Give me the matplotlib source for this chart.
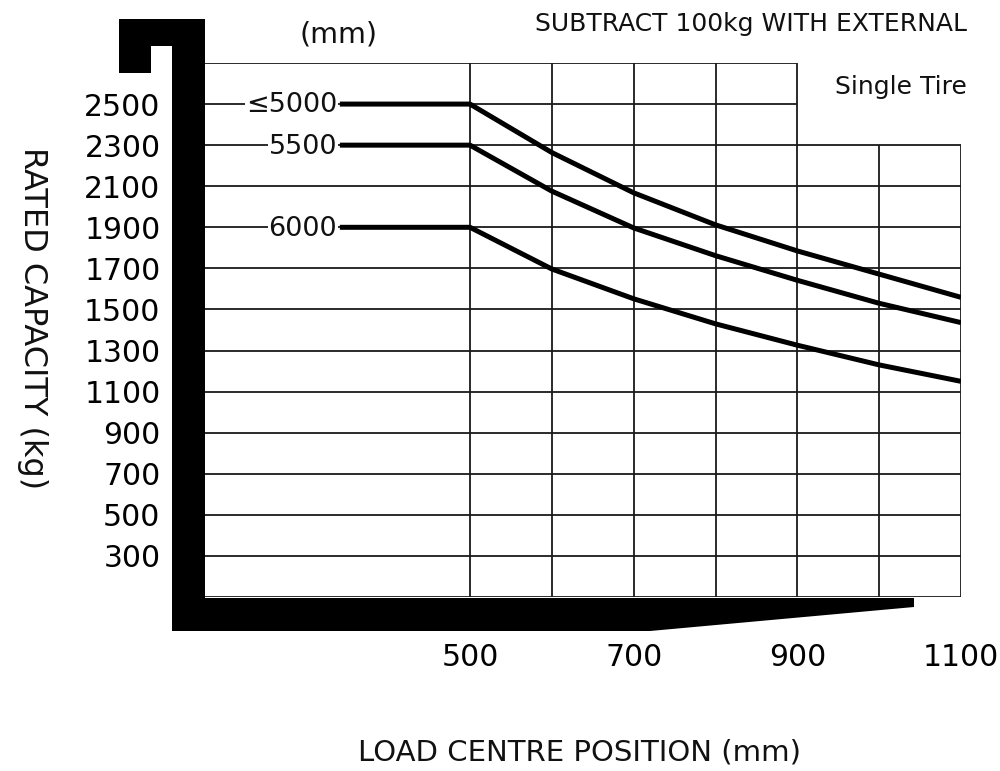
import numpy as np
import matplotlib
matplotlib.use('Agg')
from matplotlib import pyplot as plt
from matplotlib import patches

plt.rcParams['font.family'] = ['DejaVu Sans']

# load centre positions (mm) where the curves are read
load_centre = [500, 600, 700, 800, 900, 1000, 1100]

# rated capacity (kg) for each lift height
lift_heights = ['≤5000', '5500', '6000']
cap_5000 = [2500, 2264, 2068, 1912, 1785, 1672, 1559]
cap_5500 = [2300, 2076, 1897, 1762, 1642, 1530, 1436]
cap_6000 = [1900, 1697, 1552, 1430, 1326, 1230, 1150]

y_ticks = [300, 500, 700, 900, 1100, 1300, 1500, 1700, 1900, 2100, 2300, 2500]
x_ticks = [500, 700, 900, 1100]

W, H = 1000, 771
fig = plt.figure(figsize=(W / 100, H / 100), dpi=100)

def px(x, y):
    return (x / W, 1 - y / H)

ax = fig.add_axes([205 / W, 1 - 597 / H, (961 - 205) / W, (597 - 63) / H])
x_left = 500 - (470 - 205) * 600 / 491
ax.set_xlim(x_left, 1100)
ax.set_ylim(100, 2700)

# grid: long rows up to 1100, short top rows up to 900
grid_kw = dict(color='#1a1a1a', lw=1.3, zorder=1)
for yv in range(100, 2301, 200):
    ax.hlines(yv, x_left, 1100, **grid_kw)
for yv in [2500, 2700]:
    ax.hlines(yv, x_left, 900, **grid_kw)
for xv in [500, 600, 700, 800, 900]:
    ax.vlines(xv, 100, 2700, **grid_kw)
for xv in [1000, 1100]:
    ax.vlines(xv, 100, 2300, **grid_kw)

# curves with a flat part left of 500 mm
flat_start = 341
for name, caps in zip(lift_heights, [cap_5000, cap_5500, cap_6000]):
    xs = [flat_start] + load_centre
    ys = [caps[0]] + caps
    ax.plot(xs, ys, color='black', lw=3.6, solid_capstyle='butt',
            solid_joinstyle='round', zorder=3)
    ax.annotate(name, xy=(flat_start, caps[0]), xytext=(-2, -1),
                textcoords='offset points', ha='right', va='center',
                fontsize=19.5, color='#111',
                bbox=dict(facecolor='white', edgecolor='none', pad=0.5), zorder=4)

for s in ax.spines.values():
    s.set_visible(False)
ax.set_yticks(y_ticks)
ax.set_yticklabels([str(v) for v in y_ticks], fontsize=21.5)
ax.set_xticks(x_ticks)
ax.set_xticklabels([str(v) for v in x_ticks], fontsize=21.5)
ax.tick_params(axis='y', length=0, pad=32)
ax.tick_params(axis='x', length=0, pad=33)

# black frame (L shape with hook)
frame = [px(119, 19), px(205, 19), px(205, 598), px(914, 598), px(914, 607),
         px(650, 631), px(172, 631), px(172, 46), px(151, 46), px(151, 73),
         px(119, 73)]
ax.add_patch(patches.Polygon(frame, closed=True, facecolor='black', edgecolor='none',
                             transform=fig.transFigure, clip_on=False, zorder=5))

fig.text(*px(338, 34), '(mm)', ha='center', va='center', fontsize=20.5, color='#111')
fig.text(*px(967, 24), 'SUBTRACT 100kg WITH EXTERNAL', ha='right', va='center',
         fontsize=18, color='#111')
fig.text(*px(967, 87), 'Single Tire', ha='right', va='center', fontsize=18, color='#111')
fig.text(*px(580, 752), 'LOAD CENTRE POSITION (mm)', ha='center', va='center',
         fontsize=21, color='#111')
fig.text(*px(32, 318), 'RATED CAPACITY (kg)', ha='center', va='center',
         rotation=270, fontsize=23, color='#111')

fig.savefig('out.png', dpi=100, facecolor='white')
